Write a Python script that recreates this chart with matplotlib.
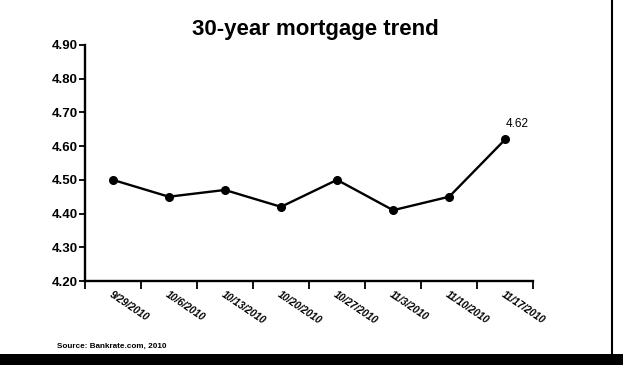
import matplotlib.pyplot as plt
from matplotlib.patches import Rectangle
from matplotlib.lines import Line2D

plt.rcParams['font.family'] = ['Liberation Sans', 'DejaVu Sans']

dates = ['9/29/2010', '10/6/2010', '10/13/2010', '10/20/2010',
         '10/27/2010', '11/3/2010', '11/10/2010', '11/17/2010']
rates = [4.50, 4.45, 4.47, 4.42, 4.50, 4.41, 4.45, 4.62]
yticks = [4.20, 4.30, 4.40, 4.50, 4.60, 4.70, 4.80, 4.90]

fig = plt.figure(figsize=(6.23, 3.65), dpi=100)
ax = fig.add_axes([0.136, 0.230, 0.720, 0.647])

x = list(range(len(dates)))
ax.plot(x, rates, color='black', lw=1.7, marker='o', ms=5.5)
ax.annotate(f"{rates[-1]:.2f}", (x[-1], rates[-1]), xytext=(0, 7),
            textcoords='offset points', fontsize=8.5, ha='left', va='bottom')

ax.set_xlim(-0.5, len(dates) - 0.5)
ax.set_ylim(4.20, 4.90)
ax.set_yticks(yticks)
ax.set_yticklabels([f"{v:.2f}" for v in yticks], fontsize=9.5, fontweight='bold')

# ticks at bin edges, labels at bin centres
ax.set_xticks([i - 0.5 for i in range(len(dates) + 1)])
ax.set_xticklabels([])
ax.set_xticks(x, minor=True)
ax.set_xticklabels(dates, minor=True, rotation=-34, ha='left', va='top',
                   rotation_mode='anchor', fontsize=7.3, fontweight='bold',
                   fontstyle='italic')
ax.tick_params(axis='x', which='major', length=6, width=1.3, direction='out')
ax.tick_params(axis='x', which='minor', length=0, pad=6)
ax.tick_params(axis='y', length=4, width=1.3, direction='out', pad=1)

for side in ['top', 'right']:
    ax.spines[side].set_visible(False)
for side in ['left', 'bottom']:
    ax.spines[side].set_linewidth(1.7)

fig.text(0.506, 0.918, '30-year mortgage trend', ha='center', va='center',
         fontsize=16, fontweight='bold')
fig.text(0.092, 0.052, 'Source: Bankrate.com, 2010', ha='left', va='center',
         fontsize=5.9, fontweight='bold')

# scan frame: right rule and heavy bottom bar
fig.add_artist(Line2D([0.983, 0.983], [0.03, 1.0], transform=fig.transFigure,
                      color='black', lw=1.5))
fig.add_artist(Rectangle((0, 0), 1, 0.03, transform=fig.transFigure,
                         color='black', lw=0))

fig.savefig('out.png', dpi=100)
